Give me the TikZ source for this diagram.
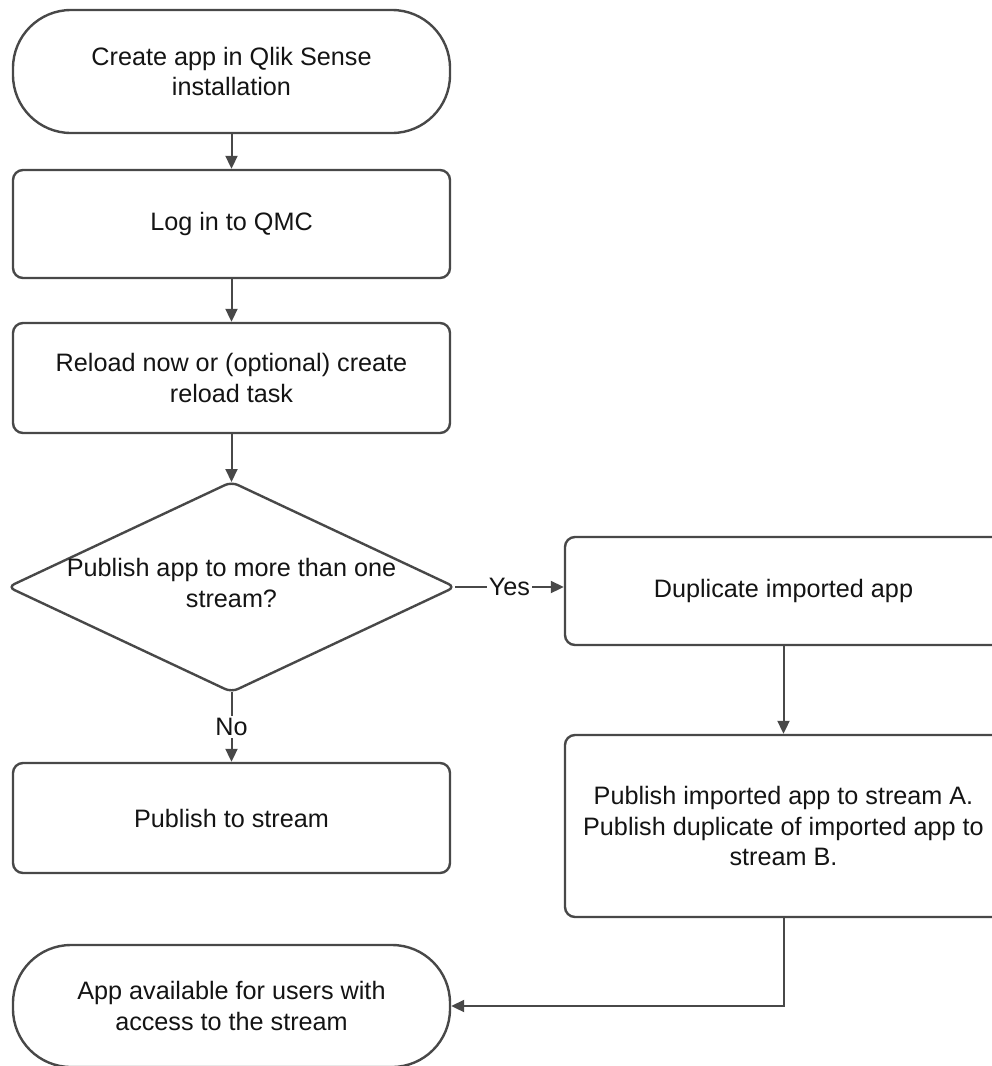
\documentclass[tikz,border=0pt]{standalone}
\usepackage{fontspec}
\setmainfont{Liberation Sans}
\usetikzlibrary{arrows.meta}
\definecolor{ln}{RGB}{72,72,72}
\definecolor{tx}{RGB}{20,20,20}
\begin{document}
\begin{tikzpicture}[x=1pt,y=-1pt,
  every node/.style={font=\fontsize{25.2}{30.5}\selectfont, text=tx},
  box/.style={draw=ln, line width=2.4pt, rounded corners=10pt, minimum width=437pt, align=center, inner sep=0pt},
  term/.style={box, rounded corners=58pt, minimum height=123pt},
  arr/.style={draw=ln, line width=2pt, -{Triangle[length=13pt,width=12pt]}},
  lbl/.style={fill=white, inner sep=2pt}]
\useasboundingbox (0,0) rectangle (992,1066);
\clip (0,0) rectangle (992,1066);
\fill[white] (0,0) rectangle (992,1066);
% nodes
\node[term] (start) at (231.5,71.5) {Create app in Qlik Sense\\installation};
\node[box, minimum height=108pt] (login) at (231.5,224) {Log in to QMC};
\node[box, minimum height=110pt] (reload) at (231.5,378) {Reload now or (optional) create\\reload task};
\coordinate (dtop) at (231.5,482);
\coordinate (dbot) at (231.5,692);
\coordinate (dleft) at (8,587);
\coordinate (dright) at (455,587);
\draw[draw=ln, line width=2.4pt, rounded corners=7pt] (dtop) -- (dright) -- (dbot) -- (dleft) -- cycle;
\node[align=center] (dec) at (231.5,583) {Publish app to more than one\\stream?};
\node[box, minimum height=108pt] (dup) at (783.5,591) {Duplicate imported app};
\node[box, minimum height=182pt] (pubab) at (783.5,826) {Publish imported app to stream A.\\Publish duplicate of imported app to\\stream B.};
\node[box, minimum height=110pt] (pub) at (231.5,818) {Publish to stream};
\node[term, minimum height=122pt] (avail) at (231.5,1006) {App available for users with\\access to the stream};
% connectors
\draw[arr] (start) -- (login);
\draw[arr] (login) -- (reload);
\draw[arr] (reload) -- (dtop);
\draw[arr] (dright) -- (dright -| dup.west) node[lbl, midway] (yes) {Yes};
\draw[arr] (dbot) -- (pub) node[lbl, midway] (no) {No};
\draw[arr] (dup) -- (pubab);
\draw[arr] (pubab.south) |- (avail.east);
\end{tikzpicture}
\end{document}
